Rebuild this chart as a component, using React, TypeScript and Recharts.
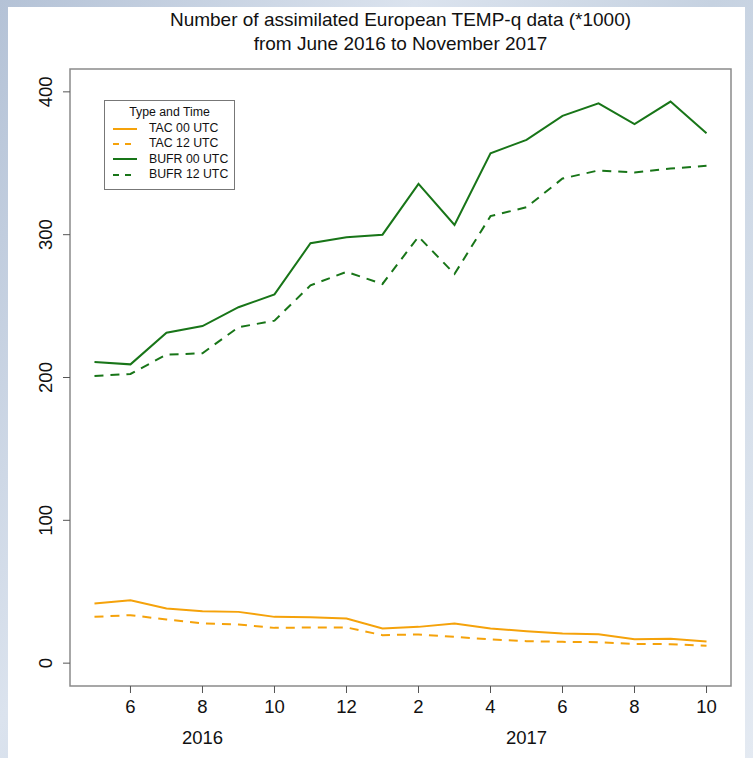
import { Line, LineChart, ReferenceArea, XAxis, YAxis } from "recharts";

// months of each point, May 2016 .. Oct 2017
const months = [5, 6, 7, 8, 9, 10, 11, 12, 1, 2, 3, 4, 5, 6, 7, 8, 9, 10];
const monthTicks = [1, 3, 5, 7, 9, 11, 13, 15, 17];
const years = ["2016", "2017"];
const yearTicks = [3, 12];
const yTicks = [0, 100, 200, 300, 400];

const tac00 = [41.8, 44.1, 38.3, 36.4, 35.9, 32.4, 32.2, 31.3, 24.3, 25.4, 27.8, 24.3, 22.4, 20.8, 20.3, 16.8, 17.0, 15.2];
const tac12 = [32.4, 33.6, 30.6, 27.8, 27.1, 24.7, 25.0, 25.0, 19.6, 20.1, 18.4, 16.6, 15.4, 14.9, 14.7, 13.5, 13.3, 12.1];
const bufr00 = [210.9, 209.2, 231.4, 236.0, 249.2, 258.2, 294.0, 298.2, 300.0, 335.6, 306.8, 357.0, 366.4, 383.2, 392.0, 377.4, 393.2, 371.0];
const bufr12 = [201.0, 202.5, 216.0, 217.0, 235.2, 239.8, 264.5, 274.0, 265.5, 298.6, 272.5, 313.0, 319.2, 339.3, 345.0, 343.5, 346.3, 348.2];

const ORANGE = "#f5a20a";
const GREEN = "#187518";
const FONT = "'Liberation Sans', Arial, sans-serif";
const DASH = "9 7";
const TICK_FONT = 18.5;

const SERIES = [
  { key: "tac00", label: "TAC 00 UTC", color: ORANGE, dash: undefined },
  { key: "tac12", label: "TAC 12 UTC", color: ORANGE, dash: DASH },
  { key: "bufr00", label: "BUFR 00 UTC", color: GREEN, dash: undefined },
  { key: "bufr12", label: "BUFR 12 UTC", color: GREEN, dash: DASH },
];

const data = months.map((m, i) => ({
  idx: i,
  month: m,
  tac00: tac00[i],
  tac12: tac12[i],
  bufr00: bufr00[i],
  bufr12: bufr12[i],
}));

function MonthTick(props: any) {
  const { x, y, payload } = props;
  return (
    <text x={x} y={y} dy="0.71em" textAnchor="middle" fontSize={TICK_FONT} fill="#111" fontFamily={FONT}>
      {months[payload.value]}
    </text>
  );
}

function YearTick(props: any) {
  const { x, y, payload } = props;
  const label = years[yearTicks.indexOf(payload.value)];
  return (
    <text x={x} y={y} dy="0.71em" textAnchor="middle" fontSize={TICK_FONT} fill="#111" fontFamily={FONT}>
      {label}
    </text>
  );
}

function YTick(props: any) {
  const { x, y, payload } = props;
  return (
    <text
      x={x}
      y={y}
      transform={`rotate(-90 ${x} ${y})`}
      textAnchor="middle"
      fontSize={TICK_FONT}
      fill="#111"
      fontFamily={FONT}
    >
      {payload.value}
    </text>
  );
}

function LegendBox() {
  return (
    <div
      style={{
        position: "absolute",
        left: 104,
        top: 100,
        width: 131,
        height: 90,
        border: "1px solid #777",
        background: "#fff",
        fontFamily: FONT,
        fontSize: 12.3,
        color: "#111",
        boxSizing: "border-box",
      }}
    >
      <div style={{ textAlign: "center", marginTop: 3, height: 17, lineHeight: "17px" }}>Type and Time</div>
      {SERIES.map((s) => (
        <div key={s.key} style={{ display: "flex", alignItems: "center", height: 15.3 }}>
          <svg width={44} height={10} style={{ flex: "none" }}>
            <line x1={8} x2={32} y1={5} y2={5} stroke={s.color} strokeWidth={2} strokeDasharray={s.dash ? "6 6" : undefined} />
          </svg>
          <span style={{ lineHeight: "15px" }}>{s.label}</span>
        </div>
      ))}
    </div>
  );
}

export default function App() {
  return (
    <div
      style={{
        position: "absolute",
        left: 0,
        top: 0,
        width: 753,
        height: 758,
        overflow: "hidden",
        background: "linear-gradient(120deg, #b4c2d6 0%, #dbe3ee 35%, #c6d2e1 60%, #e4eaf2 100%)",
      }}
    >
      <div style={{ position: "absolute", left: 8, top: 7, width: 737, height: 751, background: "#fff" }} />
      <div
        style={{
          position: "absolute",
          left: 70,
          top: 8,
          width: 661,
          textAlign: "center",
          fontFamily: FONT,
          fontSize: 19,
          lineHeight: "24px",
          color: "#111",
        }}
      >
        <div>Number of assimilated European TEMP-q data (*1000)</div>
        <div>from June 2016 to November 2017</div>
      </div>
      <div style={{ position: "absolute", left: 0, top: 0 }}>
        <LineChart width={753} height={758} data={data} margin={{ top: 69, right: 22, bottom: 12, left: 10 }}>
          <ReferenceArea
            x1={-0.68}
            x2={17.68}
            y1={-16}
            y2={416}
            fill="none"
            stroke="#8a8a8a"
            strokeWidth={1.5}
            ifOverflow="visible"
          />
          <XAxis
            dataKey="idx"
            type="number"
            domain={[-0.68, 17.68]}
            allowDataOverflow
            ticks={monthTicks}
            interval={0}
            height={30}
            axisLine={false}
            tickLine={{ stroke: "#555" }}
            tickSize={7}
            tickMargin={7}
            tick={<MonthTick />}
          />
          <XAxis
            xAxisId="year"
            dataKey="idx"
            type="number"
            domain={[-0.68, 17.68]}
            allowDataOverflow
            ticks={yearTicks}
            interval={0}
            height={30}
            axisLine={false}
            tickLine={false}
            tickSize={0}
            tickMargin={15}
            tick={<YearTick />}
          />
          <YAxis
            type="number"
            domain={[-16, 416]}
            allowDataOverflow
            ticks={yTicks}
            interval={0}
            width={60}
            axisLine={false}
            tickLine={{ stroke: "#555" }}
            tickSize={7}
            tickMargin={11}
            tick={<YTick />}
          />
          {SERIES.map((s) => (
            <Line
              key={s.key}
              type="linear"
              dataKey={s.key}
              name={s.label}
              stroke={s.color}
              strokeWidth={2}
              strokeDasharray={s.dash}
              dot={false}
              activeDot={false}
              isAnimationActive={false}
            />
          ))}
        </LineChart>
      </div>
      <LegendBox />
    </div>
  );
}
